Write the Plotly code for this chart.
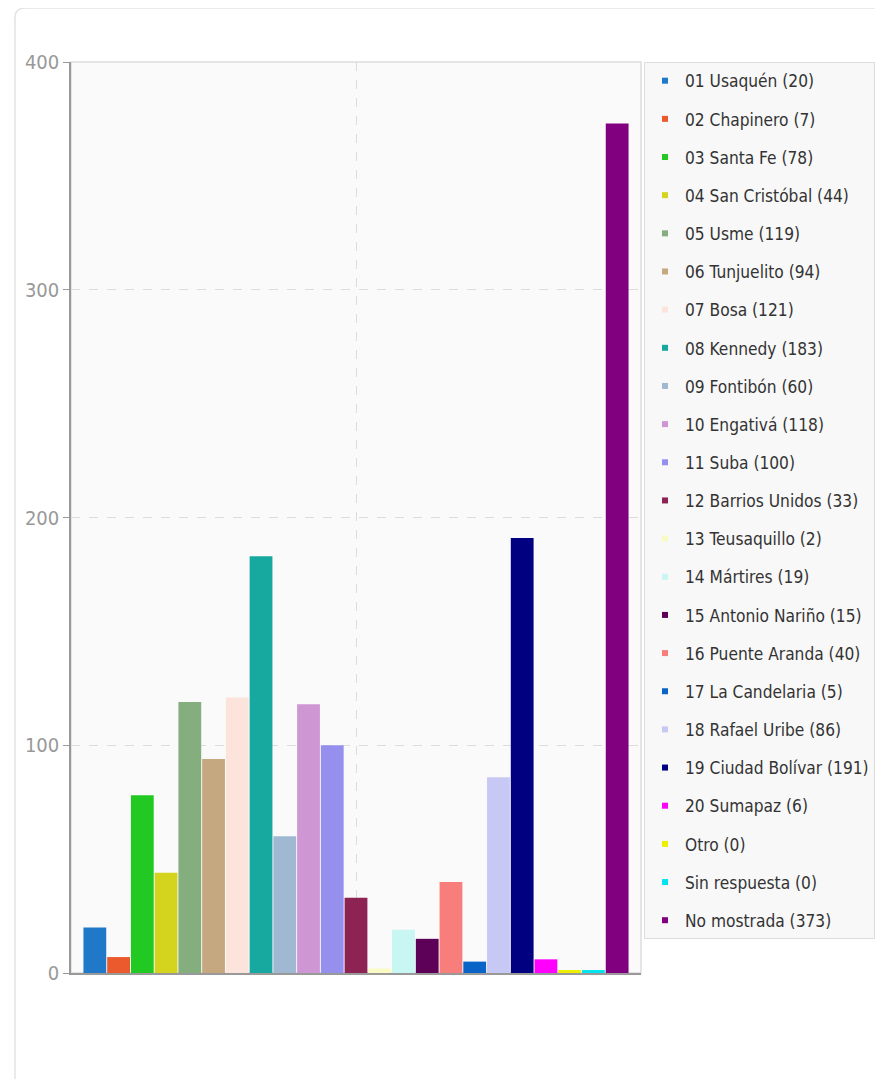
import plotly.graph_objects as go

names = ["01 Usaquén", "02 Chapinero", "03 Santa Fe", "04 San Cristóbal", "05 Usme",
         "06 Tunjuelito", "07 Bosa", "08 Kennedy", "09 Fontibón", "10 Engativá",
         "11 Suba", "12 Barrios Unidos", "13 Teusaquillo", "14 Mártires",
         "15 Antonio Nariño", "16 Puente Aranda", "17 La Candelaria", "18 Rafael Uribe",
         "19 Ciudad Bolívar", "20 Sumapaz", "Otro", "Sin respuesta", "No mostrada"]
values = [20, 7, 78, 44, 119, 94, 121, 183, 60, 118, 100, 33, 2, 19, 15, 40, 5, 86,
          191, 6, 0, 0, 373]
colors = ["#1f78c8", "#ea5a2c", "#22c922", "#d4d41e", "#84ae7e", "#c6a880", "#fce4dc",
          "#17a89f", "#a0b8d2", "#cf96d4", "#9590ee", "#8c2352", "#fafac4", "#c8f6f2",
          "#5c0058", "#f77e7a", "#0a64c8", "#c8c8f4", "#000080", "#ff00ff", "#eeee00",
          "#00e4f0", "#800080"]
category = [""]
y_ticks = [0, 100, 200, 300, 400]

MIN_VISIBLE = 1.3  # minimum drawn height so zero-valued bars remain visible
FONT = "DejaVu Sans Condensed, Liberation Sans Narrow, DejaVu Sans, sans-serif"

fig = go.Figure()
for n, v, c in zip(names, values, colors):
    fig.add_trace(go.Bar(
        x=category, y=[max(v, MIN_VISIBLE)], name=f"{n} ({v})", legendgroup=n,
        marker=dict(color=c, line=dict(width=0)), showlegend=False,
        hovertext=[f"{n}: {v}"], hoverinfo="text"))
    fig.add_trace(go.Scatter(
        x=[None], y=[None], mode="markers", name=f"{n} ({v})", legendgroup=n,
        marker=dict(color=c, symbol="square", size=6), showlegend=True))

OFF = 8  # page body margin
W, H = 867, 1071
L, T = 71 - OFF, 62 - OFF
R = W - (641 - OFF)
B = H - (973 - OFF)
pw, ph = W - L - R, H - T - B

def px(x):
    return (x - OFF - L) / pw

def py(y):
    return (H - B - (y - OFF)) / ph

# outer card with rounded corners
x0, y0, x1, y1 = px(15), py(8), px(900), py(1100)
rx, ry = 10 / pw, 10 / ph
card = (f"M {x0},{y0 - ry} Q {x0},{y0} {x0 + rx},{y0} L {x1},{y0} L {x1},{y1} "
        f"L {x0},{y1} Z")

fig.update_layout(
    width=W, height=H,
    margin=dict(l=L, r=R, t=T, b=B, autoexpand=False),
    paper_bgcolor="white",
    plot_bgcolor="#fafafa",
    barmode="group", bargap=0.042, bargroupgap=0.04,
    font=dict(family=FONT, color="#444"),
    shapes=[
        dict(type="path", xref="paper", yref="paper", path=card,
             line=dict(color="#e4e4e4", width=1.5), fillcolor="rgba(0,0,0,0)", layer="below"),
        dict(type="rect", xref="paper", yref="paper", x0=0, y0=0, x1=1, y1=1,
             line=dict(color="#dddddd", width=1.5), fillcolor="rgba(0,0,0,0)", layer="below"),
    ],
    legend=dict(
        x=px(644), y=1.0, xanchor="left", yanchor="top",
        bgcolor="#f8f8f8", bordercolor="#dddddd", borderwidth=1,
        font=dict(size=17.2, color="#333", family=FONT),
        traceorder="grouped", tracegroupgap=12.8, itemclick=False,
    ),
    xaxis=dict(showticklabels=False, showgrid=True, gridcolor="#dcdcdc", griddash="dash",
               showline=True, linecolor="#999999", linewidth=1.5, ticks="",
               zeroline=False),
    yaxis=dict(range=[0, 400], tickvals=y_ticks, showgrid=True, gridcolor="#dcdcdc",
               griddash="dash", showline=True, linecolor="#999999", linewidth=1.5,
               ticks="outside", ticklen=6, tickcolor="#999999",
               tickfont=dict(size=20, color="#999999", family=FONT), zeroline=False),
)

fig.write_html("out.html")
